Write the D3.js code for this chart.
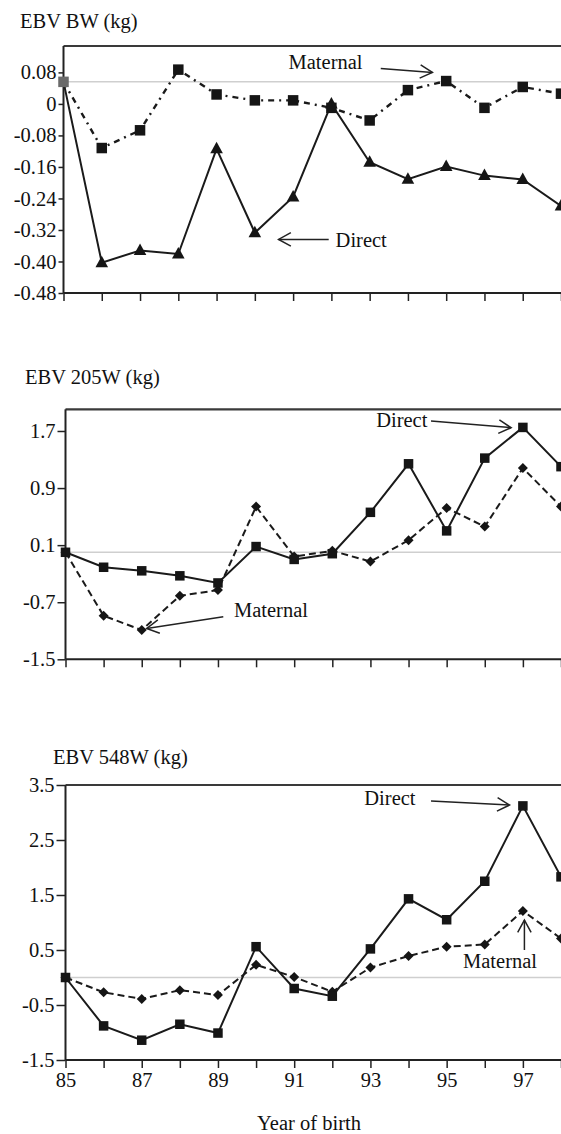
<!DOCTYPE html>
<html>
<head>
<meta charset="utf-8">
<script src="https://cdn.jsdelivr.net/npm/d3@7"></script>
<style>
  html, body { margin: 0; padding: 0; background: #fff; }
  svg { display: block; }
  svg text { font-family: "Times New Roman", "Liberation Serif", Tinos, "DejaVu Serif", serif !important; fill: #111; }
</style>
</head>
<body>
<svg id="chart" width="561" height="1134" font-family="Liberation Serif, serif"></svg>
<script>
// ---------- DATA ----------
const years = [85, 86, 87, 88, 89, 90, 91, 92, 93, 94, 95, 96, 97, 98];
const xTickLabels = ["85", "87", "89", "91", "93", "95", "97"];
const xAxisTitle = "Year of birth";

// Panel 1: EBV BW (kg)
const bwTitle = "EBV BW (kg)";
const bwTicks = [0.08, 0, -0.08, -0.16, -0.24, -0.32, -0.40, -0.48];
const bwTickLabels = ["0.08", "0", "-0.08", "-0.16", "-0.24", "-0.32", "-0.40", "-0.48"];
const bwDirect   = [0.056, -0.403, -0.372, -0.381, -0.114, -0.327, -0.236, 0.000, -0.148, -0.191, -0.159, -0.182, -0.192, -0.259];
const bwMaternal = [0.056, -0.112, -0.067, 0.087, 0.024, 0.009, 0.009, -0.010, -0.042, 0.035, 0.058, -0.010, 0.043, 0.026];
const bwRef = 0.056;

// Panel 2: EBV 205W (kg)
const w205Title = "EBV 205W (kg)";
const w205Ticks = [1.7, 0.9, 0.1, -0.7, -1.5];
const w205TickLabels = ["1.7", "0.9", "0.1", "-0.7", "-1.5"];
const w205Direct   = [0.00, -0.21, -0.26, -0.33, -0.43, 0.08, -0.10, -0.02, 0.56, 1.24, 0.30, 1.32, 1.75, 1.20];
const w205Maternal = [0.00, -0.89, -1.09, -0.61, -0.53, 0.64, -0.06, 0.02, -0.13, 0.17, 0.62, 0.36, 1.18, 0.64];
const w205Ref = 0;

// Panel 3: EBV 548W (kg)
const w548Title = "EBV 548W (kg)";
const w548Ticks = [3.5, 2.5, 1.5, 0.5, -0.5, -1.5];
const w548TickLabels = ["3.5", "2.5", "1.5", "0.5", "-0.5", "-1.5"];
const w548Direct   = [0.00, -0.88, -1.14, -0.85, -1.01, 0.56, -0.20, -0.34, 0.52, 1.43, 1.05, 1.75, 3.12, 1.83];
const w548Maternal = [0.00, -0.27, -0.39, -0.23, -0.32, 0.23, 0.01, -0.26, 0.18, 0.39, 0.56, 0.60, 1.21, 0.71];
const w548Ref = 0;

// ---------- LAYOUT ----------
const svg = d3.select("#chart");
const FONT = 20.5;
const SERIF = "'Times New Roman', 'Liberation Serif', Tinos, 'DejaVu Serif', serif";

const panels = [
  {
    title: bwTitle, titleX: 20, titleY: 28,
    left: 63.5, top: 46, bottom: 293, domain: [-0.48, 0.147],
    ticks: bwTicks, tickLabels: bwTickLabels, tickLen: 5,
    direct: bwDirect, maternal: bwMaternal, ref: bwRef,
    directMarker: "triangle", maternalMarker: "square", maternalDash: "6,5,2,5",
    maternalWidth: 2.4, firstGrey: true,
    notes: [
      { text: "Maternal", tx: 90.88, ty: 0.088, from: [93.29, 0.090], to: [94.64, 0.080] },
      { text: "Direct", tx: 92.11, ty: -0.363, from: [91.93, -0.344], to: [90.62, -0.344] }
    ],
    showXLabels: false
  },
  {
    title: w205Title, titleX: 25, titleY: 384,
    left: 65.5, top: 409.3, bottom: 659.3, domain: [-1.5, 2.004],
    ticks: w205Ticks, tickLabels: w205TickLabels, tickLen: 8,
    direct: w205Direct, maternal: w205Maternal, ref: w205Ref,
    directMarker: "square", maternalMarker: "diamond", maternalDash: "7,4",
    maternalWidth: 2, firstGrey: false,
    notes: [
      { text: "Direct", tx: 93.15, ty: 1.756, from: [94.59, 1.84], to: [96.69, 1.746] },
      { text: "Maternal", tx: 89.42, ty: -0.909, from: [89.14, -0.904], to: [87.13, -1.067] }
    ],
    showXLabels: false
  },
  {
    title: w548Title, titleX: 53, titleY: 764,
    left: 65.5, top: 785, bottom: 1060, domain: [-1.5, 3.5],
    ticks: w548Ticks, tickLabels: w548TickLabels, tickLen: 9,
    direct: w548Direct, maternal: w548Maternal, ref: w548Ref,
    directMarker: "square", maternalMarker: "diamond", maternalDash: "7,4",
    maternalWidth: 2, firstGrey: false,
    notes: [
      { text: "Direct", tx: 92.84, ty: 3.136, from: [94.59, 3.209], to: [96.65, 3.136] },
      { text: "Maternal", tx: 95.43, ty: 0.173, from: [97.04, 0.50], to: [97.04, 1.045] }
    ],
    showXLabels: true
  }
];

const RIGHT = 561;

function arrow(g, x1, y1, x2, y2) {
  const ang = Math.atan2(y2 - y1, x2 - x1);
  const L = 14, W = 0.5;
  g.append("line").attr("x1", x1).attr("y1", y1).attr("x2", x2).attr("y2", y2)
    .attr("stroke", "#222").attr("stroke-width", 1.5);
  const p1 = [x2 - L * Math.cos(ang - W), y2 - L * Math.sin(ang - W)];
  const p2 = [x2 - L * Math.cos(ang + W), y2 - L * Math.sin(ang + W)];
  g.append("path")
    .attr("d", `M${p1[0]},${p1[1]} L${x2},${y2} L${p2[0]},${p2[1]}`)
    .attr("fill", "none").attr("stroke", "#222").attr("stroke-width", 1.5);
}

panels.forEach(p => {
  const x = d3.scaleLinear().domain([85, 98]).range([p.left, RIGHT]);
  const y = d3.scaleLinear().domain(p.domain).range([p.bottom, p.top]);
  const g = svg.append("g").attr("font-family", SERIF);

  // title
  g.append("text").attr("x", p.titleX).attr("y", p.titleY)
    .attr("font-family", SERIF).attr("font-size", FONT).text(p.title);

  // grey reference line
  g.append("line")
    .attr("x1", p.left).attr("x2", RIGHT + 5)
    .attr("y1", y(p.ref)).attr("y2", y(p.ref))
    .attr("stroke", "#cfcfcf").attr("stroke-width", 1.5);

  // frame top
  g.append("line").attr("x1", p.left).attr("x2", RIGHT + 5)
    .attr("y1", p.top).attr("y2", p.top)
    .attr("stroke", "#3a3a3a").attr("stroke-width", 2.2);

  // y axis
  const yAxis = d3.axisLeft(y).tickValues(p.ticks)
    .tickFormat((d, i) => p.tickLabels[i]).tickSize(p.tickLen).tickPadding(2);
  const ya = g.append("g").attr("transform", `translate(${p.left},0)`).call(yAxis)
    .attr("font-family", SERIF).attr("font-size", FONT);
  ya.select(".domain").attr("stroke", "#222").attr("stroke-width", 2)
    .attr("d", `M0,${p.top}V${p.bottom}`);
  ya.selectAll(".tick line").attr("stroke", "#222").attr("stroke-width", 1.5);
  ya.selectAll(".tick text").attr("fill", "#111");

  // x axis
  const xAxis = d3.axisBottom(x).tickValues(years)
    .tickFormat(d => (p.showXLabels && xTickLabels.includes(String(d))) ? String(d) : "")
    .tickSize(8).tickPadding(4);
  const xa = g.append("g").attr("transform", `translate(0,${p.bottom})`).call(xAxis)
    .attr("font-family", SERIF).attr("font-size", FONT);
  xa.select(".domain").attr("stroke", "#222").attr("stroke-width", 2)
    .attr("d", `M${p.left},0H${RIGHT + 5}`);
  xa.selectAll(".tick line").attr("stroke", "#222").attr("stroke-width", 1.5);
  xa.selectAll(".tick text").attr("fill", "#111");

  const line = d3.line().x((d, i) => x(years[i])).y(d => y(d));

  // maternal line
  g.append("path").datum(p.maternal).attr("d", line)
    .attr("fill", "none").attr("stroke", "#1a1a1a")
    .attr("stroke-width", p.maternalWidth).attr("stroke-dasharray", p.maternalDash);

  // direct line
  g.append("path").datum(p.direct).attr("d", line)
    .attr("fill", "none").attr("stroke", "#1a1a1a").attr("stroke-width", 2);

  function drawMarkers(vals, kind, greyFirst) {
    vals.forEach((v, i) => {
      const cx = x(years[i]), cy = y(v);
      const fill = (greyFirst && i === 0) ? "#6a6a6a" : "#151515";
      if (kind === "square") {
        const s = p.directMarker === "triangle" ? 10.5 : 9.5;
        g.append("rect").attr("x", cx - s / 2).attr("y", cy - s / 2)
          .attr("width", s).attr("height", s).attr("fill", fill);
      } else if (kind === "triangle") {
        if (i === 0) return;
        g.append("path")
          .attr("d", `M${cx},${cy - 7} L${cx + 6.3},${cy + 4.5} L${cx - 6.3},${cy + 4.5} Z`)
          .attr("fill", fill);
      } else if (kind === "diamond") {
        const r = 5;
        g.append("path")
          .attr("d", `M${cx},${cy - r} L${cx + r},${cy} L${cx},${cy + r} L${cx - r},${cy} Z`)
          .attr("fill", fill);
      }
    });
  }
  if (p.directMarker === "triangle") {
    drawMarkers(p.direct, "triangle", false);
    drawMarkers(p.maternal, "square", p.firstGrey);
  } else {
    drawMarkers(p.maternal, "diamond", false);
    drawMarkers(p.direct, "square", false);
  }

  // annotations
  p.notes.forEach(n => {
    g.append("text").attr("x", x(n.tx)).attr("y", y(n.ty))
      .attr("font-family", SERIF).attr("font-size", FONT).text(n.text);
    arrow(g, x(n.from[0]), y(n.from[1]), x(n.to[0]), y(n.to[1]));
  });

  if (p.showXLabels) {
    g.append("text").attr("x", 309).attr("y", 1130)
      .attr("text-anchor", "middle").attr("font-family", SERIF)
      .attr("font-size", FONT).text(xAxisTitle);
  }
});
</script>
</body>
</html>
